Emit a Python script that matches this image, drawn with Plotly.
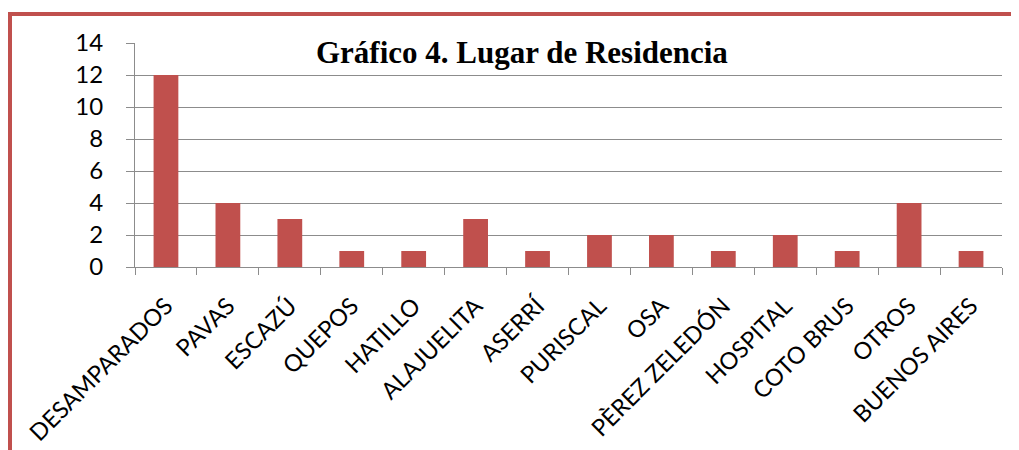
import plotly.graph_objects as go

categories = ["DESAMPARADOS", "PAVAS", "ESCAZÚ", "QUEPOS", "HATILLO", "ALAJUELITA", "ASERRÍ",
              "PURISCAL", "OSA", "PÈREZ ZELEDÓN", "HOSPITAL", "COTO BRUS", "OTROS", "BUENOS AIRES"]
values = [12, 4, 3, 1, 1, 3, 1, 2, 2, 1, 2, 1, 4, 1]
y_ticks = [0, 2, 4, 6, 8, 10, 12, 14]
title_text = "Gráfico 4. Lugar de Residencia"

# page has an 8px body margin; figure is sized to fill the remaining window
OFF = 8
W, H = 1019 - OFF, 450 - OFF
L, R, T, B = 135 - OFF, 17, 43 - OFF, 183
pw, ph = W - L - R, H - T - B

def px(x):
    return (x - OFF - L) / pw

def py(y):
    return (H - B - (y - OFF)) / ph

fig = go.Figure(go.Bar(x=categories, y=values, marker_color="#C0504D", marker_line_width=0))

fig.update_layout(
    width=W, height=H,
    margin=dict(l=L, r=R, t=T, b=B, autoexpand=False),
    paper_bgcolor="white", plot_bgcolor="white",
    bargap=0.6, showlegend=False,
    font=dict(family="Lato", size=23.5, color="black"),
)
fig.update_xaxes(
    type="category", tickangle=-45, tickson="boundaries", ticks="outside", ticklen=7,
    tickcolor="#8c8c8c", showline=True, linecolor="#8c8c8c", linewidth=1,
    showgrid=False, ticklabelstandoff=15, automargin=False,
)
fig.update_yaxes(
    range=[0, 14], tickvals=y_ticks, ticks="outside", ticklen=8, tickcolor="#8c8c8c",
    showline=True, linecolor="#8c8c8c", linewidth=1, showgrid=True, gridcolor="#8c8c8c",
    gridwidth=1, zeroline=False, ticklabelstandoff=18, automargin=False,
    tickfont=dict(size=24),
)
fig.add_annotation(
    text="<b>" + title_text + "</b>", xref="paper", yref="paper", x=px(522), y=py(53),
    xanchor="center", yanchor="middle", showarrow=False,
    font=dict(family="Liberation Serif", size=31, color="black"), bgcolor="rgba(0,0,0,0)",
)
fig.add_shape(type="line", xref="paper", yref="paper", x0=px(10), x1=px(10), y0=py(12), y1=py(470),
              line=dict(color="#C0504D", width=4))
fig.add_shape(type="line", xref="paper", yref="paper", x0=px(8), x1=px(1040), y0=py(14), y1=py(14),
              line=dict(color="#C0504D", width=4))

fig.write_html("out.html")
